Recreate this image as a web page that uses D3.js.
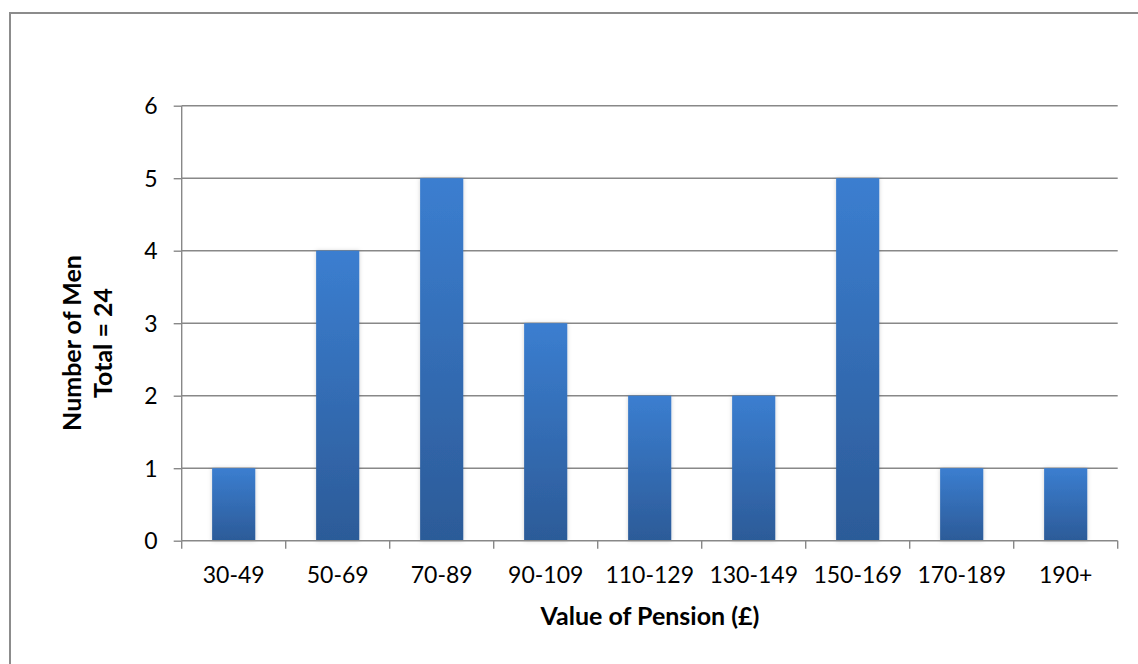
<!DOCTYPE html>
<html><head><meta charset="utf-8">
<script src="https://cdn.jsdelivr.net/npm/d3@7/dist/d3.min.js"></script>
<style>body{margin:0;background:#fff}svg{display:block}text{font-family:Lato,"Open Sans",sans-serif;fill:#000}</style>
</head><body><svg id="c" width="1138" height="664"></svg>
<script>
const categories = ["30-49","50-69","70-89","90-109","110-129","130-149","150-169","170-189","190+"];
const values = [1,4,5,3,2,2,5,1,1];
const yTicks = [0,1,2,3,4,5,6];
const xTitle = "Value of Pension (£)";
const yTitleLines = ["Number of Men","Total = 24"];

const svg = d3.select("#c");
const W = 1138, H = 664;
const pL = 181.7, pR = 1117.7, pT = 105.7, pB = 540.7;

svg.append("rect").attr("x",10).attr("y",13).attr("width",W+20).attr("height",H+20)
  .attr("fill","#fff").attr("stroke","#8c8c8c").attr("stroke-width",2);

const defs = svg.append("defs");
const g = defs.append("linearGradient").attr("id","bg").attr("x1",0).attr("y1",0).attr("x2",0).attr("y2",1);
g.append("stop").attr("offset","0%").attr("stop-color","#3b7ed0");
g.append("stop").attr("offset","100%").attr("stop-color","#2c5b98");
const f = defs.append("filter").attr("id","sh").attr("x","-20%").attr("y","-5%").attr("width","140%").attr("height","110%");
f.append("feDropShadow").attr("dx",0).attr("dy",0).attr("stdDeviation",2).attr("flood-color","#000").attr("flood-opacity",0.18);

const x = d3.scaleBand().domain(categories).range([pL,pR]).paddingInner(0.585).paddingOuter(0.2925);
const xb = d3.scaleBand().domain(categories).range([pL,pR]);
const y = d3.scaleLinear().domain([0,6]).range([pB,pT]);

// gridlines
svg.append("g").selectAll("line").data(yTicks.filter(d=>d>0)).join("line")
  .attr("x1",pL).attr("x2",pR).attr("y1",d=>y(d)).attr("y2",d=>y(d))
  .attr("stroke","#888").attr("stroke-width",1.4);

// bars
svg.append("g").selectAll("rect").data(values).join("rect")
  .attr("x",(d,i)=>x(categories[i])).attr("width",x.bandwidth())
  .attr("y",d=>y(d)).attr("height",d=>y(0)-y(d))
  .attr("fill","url(#bg)").attr("filter","url(#sh)");

// y axis
const ya = svg.append("g").attr("transform",`translate(${pL},0)`)
  .call(d3.axisLeft(y).tickValues(yTicks).tickSize(8).tickPadding(16).tickFormat(d3.format("d")));
ya.select(".domain").attr("stroke","#888").attr("stroke-width",1.4).attr("d",`M0,${pT}V${pB}`);
ya.selectAll(".tick line").attr("stroke","#888").attr("stroke-width",1.4);
ya.selectAll(".tick text").style("font-size","23px").attr("fill","#000").attr("dy","0.36em");

// x axis
const xa = svg.append("g").attr("transform",`translate(0,${pB})`)
  .call(d3.axisBottom(xb).tickSize(0).tickPadding(26));
xa.select(".domain").attr("stroke","#888").attr("stroke-width",1.4).attr("d",`M${pL},0H${pR}`);
xa.selectAll(".tick text").style("font-size","23px").attr("fill","#000");
const bounds = [pL, ...categories.map(c=>xb(c)+xb.bandwidth())];
xa.append("g").selectAll("line").data(bounds).join("line")
  .attr("x1",d=>d).attr("x2",d=>d).attr("y1",0).attr("y2",8)
  .attr("stroke","#888").attr("stroke-width",1.4);

// titles
svg.append("text").attr("x",650).attr("y",625).attr("text-anchor","middle")
  .style("font-size","25px").style("font-weight","bold").text(xTitle);
const yt = svg.append("text").attr("transform",`translate(88,343) rotate(-90)`)
  .attr("text-anchor","middle").style("font-size","25px").style("font-weight","bold");
yTitleLines.forEach((t,i)=>yt.append("tspan").attr("x",0).attr("y",(i-0.5)*31+8).text(t));
</script></body></html>
